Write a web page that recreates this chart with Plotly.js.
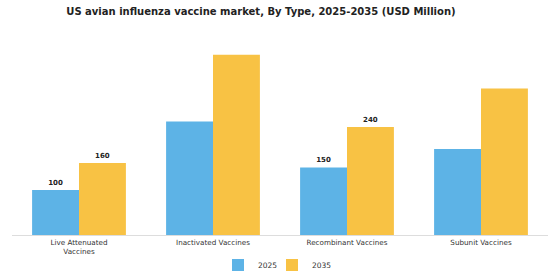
<!DOCTYPE html>
<html>
<head>
<meta charset="utf-8">
<script src="https://cdn.plot.ly/plotly-3.0.1.min.js"></script>
<style>html,body{margin:0;padding:0;background:#fff;}#chart{width:560px;height:280px;}</style>
</head>
<body>
<div id="chart"></div>
<script>
const categories = ["Live Attenuated<br>Vaccines", "Inactivated Vaccines", "Recombinant Vaccines", "Subunit Vaccines"];
const values2025 = [100, 252, 150, 191];
const values2035 = [160, 400, 240, 325];
const labeled = [true, false, true, false];

const lbl = (arr) => arr.map((v, i) => labeled[i] ? String(v) : "");

const traces = [
  {
    type: "bar", name: "2025", x: categories, y: values2025,
    marker: {color: "#5DB3E6"}, legend: "legend",
    text: lbl(values2025), textposition: "outside", cliponaxis: false,
    textfont: {family: "DejaVu Sans", size: 7, color: "#222", weight: "bold"}
  },
  {
    type: "bar", name: "2035", x: categories, y: values2035,
    marker: {color: "#F8C244"}, legend: "legend2",
    text: lbl(values2035), textposition: "outside", cliponaxis: false,
    textfont: {family: "DejaVu Sans", size: 7, color: "#222", weight: "bold"}
  }
];

const legendBase = {orientation: "h", xref: "container", xanchor: "left", yref: "container", y: 0.054, yanchor: "middle",
  font: {family: "DejaVu Sans", size: 7.5, color: "#333"}, itemwidth: 30, bgcolor: "rgba(0,0,0,0)"};

const layout = {
  width: 560, height: 280,
  margin: {l: 12, r: 12, t: 35, b: 45, autoexpand: false},
  paper_bgcolor: "#fff", plot_bgcolor: "#fff",
  title: {text: "<b>US avian influenza vaccine market, By Type, 2025-2035 (USD Million)</b>",
    font: {family: "DejaVu Sans", size: 10, color: "#222"}, x: 0.466, xanchor: "center", y: 0.96, yanchor: "middle"},
  barmode: "group", bargap: 0.3, bargroupgap: 0,
  xaxis: {showline: true, linecolor: "#ddd", linewidth: 1, tickfont: {family: "DejaVu Sans", size: 7.2, color: "#333"}, ticks: "", automargin: false},
  yaxis: {range: [0, 444], showgrid: false, showticklabels: false, zeroline: false, showline: false, automargin: false},
  showlegend: true,
  legend: Object.assign({}, legendBase, {x: 218 / 560}),
  legend2: Object.assign({}, legendBase, {x: 272 / 560}),
  font: {family: "DejaVu Sans"}
};

Plotly.newPlot("chart", traces, layout, {displayModeBar: false, staticPlot: true});
</script>
</body>
</html>
